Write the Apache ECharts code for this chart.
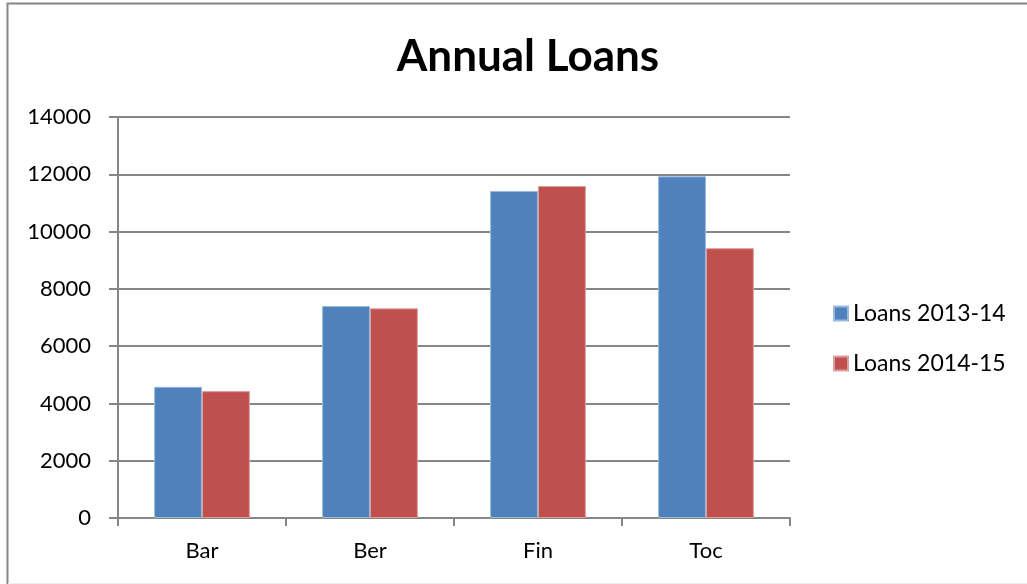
<!DOCTYPE html>
<html>
<head>
<meta charset="utf-8">
<script src="https://cdn.jsdelivr.net/npm/echarts@6/dist/echarts.min.js"></script>
<style>
  html, body { margin: 0; padding: 0; background: #fff; }
  #chart { width: 1027px; height: 584px; }
</style>
</head>
<body>
<div id="chart"></div>
<script>
// data
const categories = ['Bar', 'Ber', 'Fin', 'Toc'];
const loans1314 = [4580, 7400, 11420, 11930];
const loans1415 = [4430, 7320, 11590, 9420];
const seriesNames = ['Loans 2013-14', 'Loans 2014-15'];

const chart = echarts.init(document.getElementById('chart'));
const font = 'Lato, "Open Sans", sans-serif';

const option = {
  backgroundColor: '#fff',
  animation: false,
  title: {
    text: 'Annual Loans',
    left: 523,
    textAlign: 'center',
    top: 30,
    textStyle: { fontFamily: font, fontWeight: 'bold', fontSize: 44, color: '#000' }
  },
  legend: {
    orient: 'vertical',
    left: 833,
    top: 302,
    padding: 0,
    itemWidth: 14,
    itemHeight: 14,
    itemGap: 27,
    icon: 'rect',
    data: seriesNames,
    textStyle: { fontFamily: font, fontSize: 23, color: '#000' }
  },
  grid: { left: 118, right: 237, top: 117, bottom: 66 },
  xAxis: {
    type: 'category',
    data: categories,
    axisLine: { lineStyle: { color: '#868686', width: 2 } },
    axisTick: { show: true, length: 8, lineStyle: { color: '#868686', width: 2 } },
    axisLabel: { fontFamily: font, fontSize: 22, color: '#000', margin: 22 }
  },
  yAxis: {
    type: 'value',
    min: 0,
    max: 14000,
    interval: 2000,
    axisLine: { show: true, lineStyle: { color: '#868686', width: 2 } },
    axisTick: { show: true, length: 9, lineStyle: { color: '#868686', width: 2 } },
    splitLine: { lineStyle: { color: '#868686', width: 2 } },
    axisLabel: {
      fontFamily: font, fontSize: 22, color: '#000', margin: 27,
      formatter: (v) => String(v)
    }
  },
  series: [
    {
      name: seriesNames[0],
      type: 'bar',
      data: loans1314,
      barGap: 0,
      barCategoryGap: '43%',
      itemStyle: { color: '#4f81bd', borderColor: '#9bb9dd', borderWidth: 1 }
    },
    {
      name: seriesNames[1],
      type: 'bar',
      data: loans1415,
      itemStyle: { color: '#c0504d', borderColor: '#dd9f9d', borderWidth: 1 }
    }
  ],
  graphic: [
    {
      type: 'rect',
      shape: { x: 7.5, y: 3.5, width: 1040, height: 620 },
      style: { fill: null, stroke: '#868686', lineWidth: 2 },
      silent: true
    },
    {
      type: 'line',
      shape: { x1: 8, y1: 583.5, x2: 1027, y2: 583.5 },
      style: { stroke: '#ececec', lineWidth: 1 },
      silent: true
    }
  ]
};

chart.setOption(option);
</script>
</body>
</html>
